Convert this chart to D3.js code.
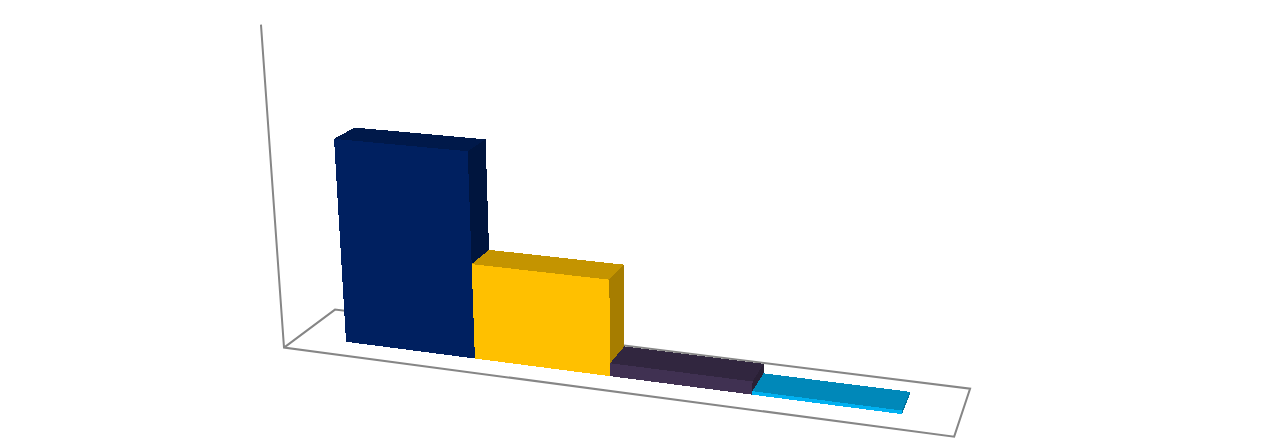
<!DOCTYPE html>
<html>
<head>
<meta charset="utf-8">
<script src="https://cdn.jsdelivr.net/npm/d3@7"></script>
<style>
	html,body { margin:0; padding:0; background:#fff; overflow:hidden; }
	svg { display:block; }
	.face { shape-rendering:crispEdges; }
	.frame { fill:none; stroke:#868686; stroke-width:2; }
</style>
</head>
<body>
<svg id="chart" width="1275" height="440"></svg>
<script>

// no labels in the picture, the categories are only keys
var categories = ['c1','c2','c3','c4'];
var values = [64.7, 30.1, 4.1, 1.1];
var frontColors = ['#002060','#ffc000','#403152','#00b0f0'];


//------------------------------------------------------------------
// camera: floor corner + the three vanishing points
//------------------------------------------------------------------
var cam = {
	o: [284,347.6],
	vu: [-4987,-353], ku: -0.1128,
	vv: [1214,-346],  kv: 0.058,
	vw: [655,5550],   kw: -0.05845,
};

function project(u,v,w)	{
	var su = u*cam.ku, sv = v*cam.kv, sw = w*cam.kw,
	d = 1+su+sv+sw;
	return [
		(cam.o[0] + su*cam.vu[0] + sv*cam.vv[0] + sw*cam.vw[0])/d,
		(cam.o[1] + su*cam.vu[1] + sv*cam.vv[1] + sw*cam.vw[1])/d,
	];
}


var x = d3.scaleBand().domain(categories).range([0,1]).paddingInner(0).paddingOuter(0.37),
		y = d3.scaleLinear().domain([0,100]).range([0,1]),
		depth = [0.3,0.7],
		line = d3.line(),
		svg = d3.select('#chart');


//------------------------------------------------------------------
// frame
//------------------------------------------------------------------
svg.append('g').selectAll('path').data([
	[[0,0,1],[0,0,0],[1,0,0],[1,1,0],[0,1,0],[0,0,0]],
])
.enter()
	.append('path')
		.attr('class','frame')
		.attr('d',d=>line(d.map(p=>project(p[0],p[1],p[2]))));


//------------------------------------------------------------------
// bars, left to right
//------------------------------------------------------------------
function shade(c,k)	{
	var r = d3.rgb(c);
	return d3.rgb(r.r*k,r.g*k,r.b*k).formatHex();
}

var bars = svg.append('g').selectAll('g').data(categories)
	.enter()
		.append('g');

bars.each(function(d,i)	{

	var u0 = x(d), u1 = u0+x.bandwidth(),
	v0 = depth[0], v1 = depth[1],
	w = y(values[i]),
	c = frontColors[i],
	faces = [
		{ k:0.77, p:[[u0,v0,w],[u1,v0,w],[u1,v1,w],[u0,v1,w]] },
		{ k:0.65, p:[[u1,v0,0],[u1,v1,0],[u1,v1,w],[u1,v0,w]] },
		{ k:1,    p:[[u0,v0,0],[u1,v0,0],[u1,v0,w],[u0,v0,w]] },
	];

	d3.select(this).selectAll('path').data(faces)
		.enter()
			.append('path')
				.attr('class','face')
				.attr('fill',f=>shade(c,f.k))
				.attr('d',f=>line(f.p.map(p=>project(p[0],p[1],p[2])))+'Z');

});

</script>
</body>
</html>
